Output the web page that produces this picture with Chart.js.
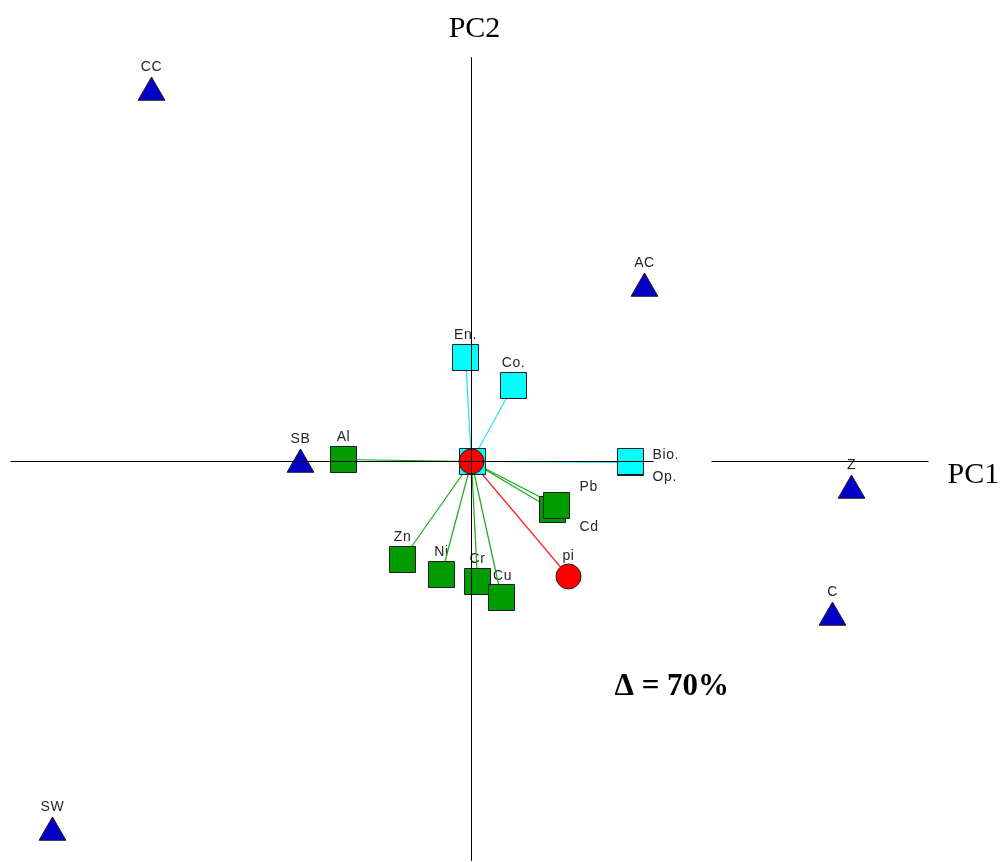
<!DOCTYPE html>
<html>
<head>
<meta charset="utf-8">
<script src="https://cdn.jsdelivr.net/npm/chart.js@4/dist/chart.umd.min.js"></script>
<style>
  html, body { margin: 0; padding: 0; background: #ffffff; }
  canvas { display: block; }
</style>
</head>
<body>
<canvas id="biplot" width="1002" height="862"></canvas>
<script>
// Sampling sites (blue triangles): PC1 / PC2 scores
const siteNames = ['CC', 'AC', 'SB', 'Z', 'C', 'SW'];
const siteX = [-3.20, 1.73, -1.71, 3.80, 3.61, -4.19];
const siteY = [3.69, 1.73, -0.03, -0.29, -1.56, -3.71];

// Metals (green squares): loadings
const metalNames = ['Al', 'Zn', 'Ni', 'Cr', 'Cu', 'Cd', 'Pb'];
const metalX = [-1.28, -0.69, -0.30, 0.06, 0.30, 0.81, 0.85];
const metalY = [0.02, -0.98, -1.13, -1.20, -1.36, -0.48, -0.44];

// Biological indices (cyan squares): loadings
const indexNames = ['', 'En.', 'Co.', 'Op.', 'Bio.'];
const indexX = [0.01, -0.06, 0.42, 1.59, 1.59];
const indexY = [0.00, 1.04, 0.76, -0.01, 0.00];

// Environmental variables (red circles): loadings
const envNames = ['', 'pi'];
const envX = [0.00, 0.97];
const envY = [0.00, -1.15];

const axisTitles = ['PC1', 'PC2'];
const noteText = 'Δ = 70%';

// ---- view window and drawing styles ----
const view = { xMin: -4.715, xMax: 5.305, yMin: -4.005, yMax: 4.615 };
const axisExtent = { hFrom: -4.61, hGapFrom: 1.82, hGapTo: 2.40, hTo: 4.57, vTop: 4.04, vBottom: -3.99 };

const COLORS = {
  site: '#0000c8',
  metal: '#009c00',
  index: '#00ffff',
  env: '#ff0000',
  outline: '#1e1e1e',
  metalLine: '#1aa81a',
  indexLine: '#22e6f0',
  envLine: '#ff2020',
  label: '#262626'
};

// label placement relative to the marker, in pixels (default: centred above)
const labelPlacement = {
  site: { dx: 0, dy: -25, align: 'center' },
  square: { dx: 0, dy: -22, align: 'center' },
  circle: { dx: 0, dy: -20, align: 'center' },
  'Pb': { dx: 23, dy: -18, align: 'left' },
  'Cd': { dx: 27, dy: 18, align: 'left' },
  'Bio.': { dx: 22, dy: -6, align: 'left' },
  'Op.': { dx: 22, dy: 15, align: 'left' },
  'Cr': { dx: 0, dy: -22, align: 'center' },
  'Cu': { dx: 1, dy: -21, align: 'center' }
};

const toPoints = (xs, ys) => xs.map((x, i) => ({ x: x, y: ys[i] }));

const sitePts = toPoints(siteX, siteY);
const metalPts = toPoints(metalX, metalY);
const indexPts = toPoints(indexX, indexY);
const envPts = toPoints(envX, envY);

// vectors from the origin to every variable
const vectorSets = [];
function addVectors(pts, color) {
  pts.forEach(p => {
    vectorSets.push({
      data: [{ x: 0, y: 0 }, { x: p.x, y: p.y }],
      showLine: true,
      borderColor: color,
      borderWidth: 1.2,
      pointRadius: 0,
      order: 5
    });
  });
}
addVectors(metalPts, COLORS.metalLine);
addVectors(indexPts, COLORS.indexLine);
addVectors(envPts, COLORS.envLine);

const axisLine = (data) => ({
  data: data,
  showLine: true,
  borderColor: '#000000',
  borderWidth: 1,
  pointRadius: 0,
  order: 1
});

const datasets = [
  ...vectorSets,
  {
    label: 'sites', data: sitePts, pointStyle: 'triangle', pointRadius: 15.5,
    backgroundColor: COLORS.site, borderColor: COLORS.outline, borderWidth: 1, order: 2.4
  },
  {
    label: 'metals', data: metalPts, pointStyle: 'rect', pointRadius: 18.4,
    backgroundColor: COLORS.metal, borderColor: COLORS.outline, borderWidth: 1, order: 2.3
  },
  {
    label: 'indices', data: indexPts, pointStyle: 'rect', pointRadius: 18.4,
    backgroundColor: COLORS.index, borderColor: COLORS.outline, borderWidth: 1, order: 2.2
  },
  {
    label: 'environment', data: envPts, pointStyle: 'circle', pointRadius: 12.5,
    backgroundColor: COLORS.env, borderColor: COLORS.outline, borderWidth: 1, order: 2.1
  },
  axisLine([{ x: axisExtent.hFrom, y: 0 }, { x: axisExtent.hGapFrom, y: 0 }]),
  axisLine([{ x: axisExtent.hGapTo, y: 0 }, { x: axisExtent.hTo, y: 0 }]),
  axisLine([{ x: 0, y: axisExtent.vTop }, { x: 0, y: axisExtent.vBottom }])
];

// point labels, drawn beneath the vectors and markers
const pointLabels = {
  id: 'pointLabels',
  beforeDatasetsDraw(chart) {
    const { ctx, scales } = chart;
    ctx.save();
    ctx.font = '14px "Liberation Sans", Arial, sans-serif';
    ctx.letterSpacing = '0.6px';
    ctx.fillStyle = COLORS.label;
    ctx.textBaseline = 'middle';
    const put = (names, pts, kind) => {
      names.forEach((name, i) => {
        if (!name) return;
        const pl = labelPlacement[name] || labelPlacement[kind];
        const px = scales.x.getPixelForValue(pts[i].x) + pl.dx;
        const py = scales.y.getPixelForValue(pts[i].y) + pl.dy;
        ctx.textAlign = pl.align;
        ctx.fillText(name, px, py);
      });
    };
    put(siteNames, sitePts, 'site');
    put(metalNames, metalPts, 'square');
    put(indexNames, indexPts, 'square');
    put(envNames, envPts, 'circle');
    ctx.restore();
  },
  afterDatasetsDraw(chart) {
    const { ctx, scales } = chart;
    ctx.save();
    ctx.fillStyle = '#000000';
    ctx.textBaseline = 'middle';
    ctx.font = '30px "Liberation Serif", "Times New Roman", serif';
    ctx.textAlign = 'center';
    ctx.fillText(axisTitles[1], scales.x.getPixelForValue(0.03), scales.y.getPixelForValue(4.32));
    ctx.textAlign = 'left';
    ctx.fillText(axisTitles[0], scales.x.getPixelForValue(4.76), scales.y.getPixelForValue(-0.14));
    ctx.font = 'bold 31px "Liberation Serif", "Times New Roman", serif';
    ctx.fillText(noteText, scales.x.getPixelForValue(1.43), scales.y.getPixelForValue(-2.25));
    ctx.restore();
  }
};

new Chart(document.getElementById('biplot'), {
  type: 'scatter',
  data: { datasets: datasets },
  options: {
    responsive: false,
    animation: false,
    events: [],
    layout: { padding: 0, autoPadding: false },
    scales: {
      x: { type: 'linear', display: false, min: view.xMin, max: view.xMax },
      y: { type: 'linear', display: false, min: view.yMin, max: view.yMax }
    },
    plugins: {
      legend: { display: false },
      tooltip: { enabled: false }
    }
  },
  plugins: [pointLabels]
});
</script>
</body>
</html>
